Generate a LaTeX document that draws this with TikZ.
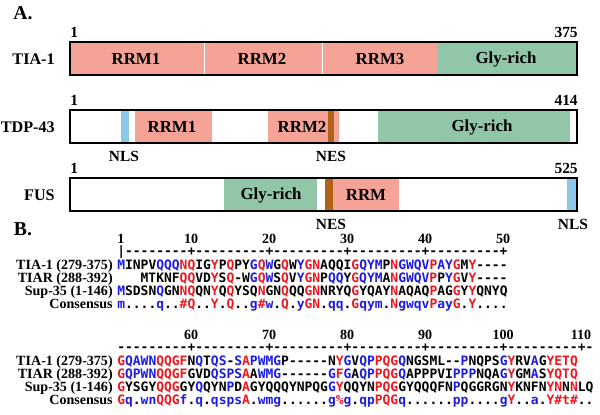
\documentclass[tikz,border=0pt]{standalone}
\usepackage{fontspec}
\setmainfont{Liberation Serif}
\newfontfamily\seqfont{DejaVu Sans Mono}
\definecolor{rrmpink}{RGB}{244,163,150}
\definecolor{glygreen}{RGB}{146,198,168}
\definecolor{nlsblue}{RGB}{140,200,232}
\definecolor{nesbrown}{RGB}{176,98,24}
\definecolor{hired}{RGB}{236,24,32}
\definecolor{loblue}{RGB}{28,28,228}
\newcommand{\Hc}[1]{\textcolor{hired}{#1}}
\newcommand{\Lc}[1]{\textcolor{loblue}{#1}}

\begin{document}
\begin{tikzpicture}[
        x=0.025cm, y=-0.025cm,
        every node/.append style={inner sep=0pt},
        protbar/.style={draw=black, line width=1.5pt},
        protname/.style={font=\bfseries\fontsize{11.5}{13}\selectfont, anchor=east},
        domname/.style={font=\bfseries\fontsize{12}{14}\selectfont},
        endnum/.style={font=\bfseries\fontsize{11}{13}\selectfont},
        panel/.style={font=\bfseries\fontsize{14}{16}\selectfont},
        seqname/.style={font=\bfseries\fontsize{10}{12}\selectfont, anchor=mid east},
        colnum/.style={font=\bfseries\fontsize{10}{12}\selectfont},
        seqrow/.style={font=\seqfont\bfseries\fontsize{9.22}{11}\selectfont, anchor=mid west}
    ]
        \useasboundingbox (0,0) rectangle (600,415);

        % A. domain maps
        \node[panel] (panelA) at (23,13) {A.};

        % TIA-1
        \fill [rrmpink] (70,42) rectangle (437,75);
        \fill [glygreen] (437,42) rectangle (577,75);
        \draw [white, line width=0.6pt] (204,43) -- (204,74) (322,43) -- (322,74);
        \draw [protbar] (70,42) rectangle (577,75);
        \node[domname] (tiarrm1) at (136,59) {RRM1};
        \node[domname] (tiarrm2) at (262,59) {RRM2};
        \node[domname] (tiarrm3) at (380,59) {RRM3};
        \node[domname] (tiagly) at (506,59) {Gly-rich};
        \node[protname] (tianame) at (55,59) {TIA-1};
        \node[endnum, anchor=base west] (tiastart) at (70,37) {1};
        \node[endnum, anchor=base east] (tiaend) at (578,37) {375};

        % TDP-43
        \fill [nlsblue] (121,110) rectangle (129,143);
        \fill [rrmpink] (135,110) rectangle (212,143);
        \fill [rrmpink] (268,110) rectangle (339,143);
        \fill [nesbrown] (328,110) rectangle (334,143);
        \fill [glygreen] (378,110) rectangle (570,143);
        \draw [protbar] (70,110) rectangle (577,143);
        \node[domname] (tdprrm1) at (172,127) {RRM1};
        \node[domname] (tdprrm2) at (302,127) {RRM2};
        \node[domname] (tdpgly) at (482,127) {Gly-rich};
        \node[protname] (tdpname) at (55,127) {TDP-43};
        \node[endnum, anchor=base west] (tdpstart) at (70,105) {1};
        \node[endnum, anchor=base east] (tdpend) at (578,105) {414};
        \node[endnum] (tdpnls) at (124,156) {NLS};
        \node[endnum] (tdpnes) at (331,156) {NES};

        % FUS
        \fill [glygreen] (224,178) rectangle (317,211);
        \fill [nesbrown] (325,178) rectangle (333,211);
        \fill [rrmpink] (333,178) rectangle (399,211);
        \fill [nlsblue] (567,178) rectangle (577,211);
        \draw [protbar] (70,178) rectangle (577,211);
        \node[domname] (fusgly) at (271,195) {Gly-rich};
        \node[domname] (fusrrm) at (366,195) {RRM};
        \node[protname] (fusname) at (55,195) {FUS};
        \node[endnum, anchor=base west] (fusstart) at (70,173) {1};
        \node[endnum, anchor=base east] (fusend) at (578,173) {525};
        \node[endnum] (fusnes) at (331,224) {NES};
        \node[endnum] (fusnls) at (573,224) {NLS};

        % B. alignment, columns 1-50
        \node[panel] (panelB) at (23,229) {B.};
        \node[colnum] (num1) at (120.9,239) {1};
        \node[colnum] (num10) at (191.1,239) {10};
        \node[colnum] (num20) at (269.1,239) {20};
        \node[colnum] (num30) at (347.1,239) {30};
        \node[colnum] (num40) at (425.1,239) {40};
        \node[colnum] (num50) at (503.1,239) {50};
        \node[seqrow] (rulerA) at (117,252.5) {|--------+---------+---------+---------+---------+};

        \node[seqname] (tiaA) at (113,266) {TIA-1 (279-375)};
        \node[seqname] (tiarA) at (113,279) {TIAR (288-392)};
        \node[seqname] (supA) at (113,292) {Sup-35 (1-146)};
        \node[seqname] (consA) at (113,305) {Consensus};

        \node[seqrow] (tiaseqA) at (117,266) {\Lc{M}INPV\Lc{QQQ}\Hc{NQ}IG\Hc{Y}P\Hc{Q}PY\Lc{G}\Hc{Q}\Lc{W}G\Hc{Q}W\Lc{Y}\Hc{GN}AQQI\Hc{G}\Lc{QYM}P\Hc{N}\Lc{GWQV}\Hc{P}\Lc{AY}\Hc{G}M\Hc{Y}----};
        \node[seqrow] (tiarseqA) at (140.4,279) {MTKNF\Hc{QQ}VD\Hc{Y}S\Hc{Q}-W\Lc{G}\Hc{Q}\Lc{W}S\Hc{Q}V\Lc{Y}\Hc{GN}P\Lc{QQ}Y\Hc{G}\Lc{QYM}A\Hc{N}\Lc{GWQV}\Hc{P}P\Lc{Y}\Hc{G}V\Hc{Y}----};
        \node[seqrow] (supseqA) at (117,292) {\Lc{M}SDSN\Lc{Q}GN\Hc{NQ}QN\Hc{Y}Q\Hc{Q}YSQ\Hc{N}GN\Hc{Q}QQ\Hc{GN}NRYQ\Hc{G}YQAY\Hc{N}AQAQ\Hc{P}AG\Hc{G}Y\Hc{Y}QNYQ};
        \node[seqrow] (consseqA) at (117,305) {\Lc{m}....\Lc{q}..\Hc{\#Q}..\Hc{Y}.\Hc{Q}..\Lc{g}\Hc{\#}\Lc{w}.\Hc{Q}.\Lc{y}\Hc{GN}.\Lc{qq}.\Hc{G}\Lc{qym}.\Hc{N}\Lc{gwqv}\Hc{P}\Lc{ay}\Hc{G}.\Hc{Y}....};

        % columns 51-111
        \node[colnum] (num60) at (191.1,335) {60};
        \node[colnum] (num70) at (269.1,335) {70};
        \node[colnum] (num80) at (347.1,335) {80};
        \node[colnum] (num90) at (425.1,335) {90};
        \node[colnum] (num100) at (503.1,335) {100};
        \node[colnum] (num110) at (581.1,335) {110};
        \node[seqrow] (rulerB) at (117,348.5) {---------+---------+---------+---------+---------+---------+-};

        \node[seqname] (tiaB) at (113,362) {TIA-1 (279-375)};
        \node[seqname] (tiarB) at (113,375) {TIAR (288-392)};
        \node[seqname] (supB) at (113,388) {Sup-35 (1-146)};
        \node[seqname] (consB) at (113,401) {Consensus};

        \node[seqrow] (tiaseqB) at (117,362) {\Hc{G}\Lc{QAWN}\Hc{QQGF}N\Lc{Q}T\Lc{QS}-\Lc{S}\Hc{A}\Lc{PWMG}P-----N\Hc{Y}\Lc{G}V\Lc{QP}\Hc{PQG}\Lc{Q}NGSML--\Lc{P}NQPS\Lc{G}\Hc{Y}RV\Lc{A}G\Hc{YETQ}};
        \node[seqrow] (tiarseqB) at (117,375) {\Hc{G}\Lc{QPWN}\Hc{QQGF}GVD\Lc{QSPS}\Hc{A}A\Lc{WMG}------\Lc{G}\Hc{F}\Lc{G}A\Lc{QP}\Hc{PQG}\Lc{Q}APPPVI\Lc{PPP}NQA\Lc{G}\Hc{Y}GM\Lc{A}S\Hc{YQTQ}};
        \node[seqrow] (supseqB) at (117,388) {\Hc{G}YSGY\Hc{QQG}GY\Lc{Q}QYN\Lc{P}D\Hc{A}GYQQQYNPQG\Lc{G}\Hc{Y}QQYN\Hc{PQG}GYQQQFN\Lc{P}QGGRGN\Hc{Y}KNFN\Hc{YN}N\Hc{N}LQ};
        \node[seqrow] (consseqB) at (117,401) {\Hc{G}\Lc{q}.\Lc{wn}\Hc{QQG}\Lc{f}.\Lc{q}.\Lc{qsps}\Hc{A}.\Lc{wmg}......\Lc{g}\Hc{\%}\Lc{g}.\Lc{qp}\Hc{PQG}\Lc{q}......\Lc{pp}....\Lc{g}\Hc{Y}..\Lc{a}.\Hc{Y\#t\#}..};
    \end{tikzpicture}
\end{document}
